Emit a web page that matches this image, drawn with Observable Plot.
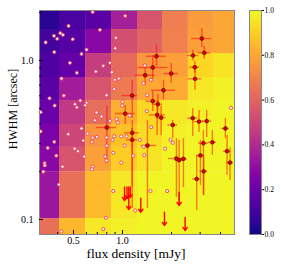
<!DOCTYPE html>
<html><head><meta charset="utf-8">
<script src="https://cdn.jsdelivr.net/npm/d3@7"></script>
<script src="https://cdn.jsdelivr.net/npm/@observablehq/plot@0.6"></script>
<style>
html,body{margin:0;padding:0;background:#fff;}
#wrap{position:relative;width:281px;height:265px;font-family:"Liberation Serif","Times New Roman",serif;color:#000;}
#wrap svg{position:absolute;top:0;overflow:visible;}
.xt{position:absolute;left:36px;top:247px;width:200px;text-align:center;font-size:13.5px;line-height:13.5px;white-space:nowrap;}
.yt{position:absolute;left:12.5px;top:109px;width:120px;height:12px;text-align:center;font-size:12px;line-height:12px;white-space:nowrap;transform:translate(-50%,-50%) rotate(-90deg);}
</style></head><body><div id="wrap"></div>
<script>
// completeness grid (bin edges and values, rows from smallest HWHM to largest)
const fluxEdges = [0.284, 0.41, 0.593, 0.856, 1.236, 1.76, 2.54, 3.62, 5.23];
const hwhmEdges = [0.07, 0.1014, 0.1416, 0.2, 0.284, 0.396, 0.56, 0.782, 1.107, 1.567, 2.2];
const completeness = [
  [0.64, 0.84, 0.96, 0.98, 0.99, 0.99, 0.99, 0.99],
  [0.33, 0.64, 0.85, 0.96, 0.99, 0.99, 0.99, 0.99],
  [0.33, 0.64, 0.85, 0.96, 0.99, 0.99, 0.99, 0.99],
  [0.28, 0.55, 0.78, 0.90, 0.95, 0.99, 0.99, 0.99],
  [0.24, 0.50, 0.75, 0.87, 0.93, 0.98, 0.99, 0.99],
  [0.20, 0.45, 0.63, 0.82, 0.92, 0.96, 0.98, 0.99],
  [0.16, 0.35, 0.55, 0.67, 0.80, 0.81, 0.96, 0.98],
  [0.13, 0.18, 0.47, 0.62, 0.76, 0.78, 0.92, 0.95],
  [0.10, 0.15, 0.28, 0.53, 0.60, 0.69, 0.78, 0.80],
  [0.05, 0.12, 0.16, 0.36, 0.55, 0.68, 0.77, 0.80]
];

// injected / recovered sources (open symbols)
const simFlux = [0.655,1.039,0.466,0.726,0.379,0.415,0.430,0.397,0.494,0.337,
  0.910,0.601,0.902,0.381,0.560,0.475,0.836,0.762,0.524,0.686,
  0.860,0.422,0.897,0.949,0.889,0.798,0.356,0.436,0.550,0.601,
  0.590,0.510,0.524,0.383,0.314,0.693,0.743,0.676,1.000,0.996,
  0.836,0.919,1.104,1.370,1.492,1.345,1.418,1.409,4.643,0.560,
  0.464,0.610,0.696,0.655,0.648,0.574,0.798,0.889,0.868,0.982,
  1.058,1.029,0.801,0.936,0.314,0.381,0.347,0.508,0.532,0.877,
  0.392,0.582,0.783,0.798,1.163,0.332,0.333,0.982,0.428,0.655,
  0.648,0.326,0.407,0.877,1.197,0.790,0.421,0.762,1.500,1.277,
  1.351,1.970,2.035,1.828,1.359,1.485,1.880];
const simHwhm = [2.02,1.91,1.65,1.56,1.43,1.485,1.45,1.37,1.36,1.30,
  1.39,1.17,1.195,1.13,1.10,0.967,0.967,0.926,0.837,0.853,
  0.844,0.770,0.756,0.770,0.660,0.605,0.579,0.602,0.560,0.542,
  0.523,0.531,0.508,0.521,0.473,0.471,0.445,0.421,0.550,0.521,
  0.418,0.428,0.451,0.930,0.756,0.720,0.605,0.480,0.504,0.374,
  0.344,0.347,0.331,0.327,0.308,0.314,0.328,0.334,0.317,0.333,
  0.334,0.292,0.291,0.407,0.358,0.308,0.282,0.279,0.269,0.263,
  0.252,0.249,0.249,0.235,0.252,0.226,0.219,0.228,0.215,0.215,
  0.207,0.200,0.166,0.151,0.114,0.1025,0.084,0.087,0.381,0.317,
  0.287,0.317,0.304,0.279,0.254,0.151,0.151];

// measured sources with error bars
const srcFlux   = [3.07,3.18,2.71,1.617,2.78,1.534,1.99,1.377,2.79,1.785,1.534,1.647,1.633,1.727,2.70,2.95,3.29,1.147,1.039,0.801,1.147,1.147,2.035,4.285,1.423,2.144,2.228,2.367,3.14,3.565,3.01,4.387,4.577,3.154,2.856];
const srcHwhm   = [1.375,1.118,1.075,1.064,0.908,0.904,0.828,0.808,0.767,0.650,0.555,0.531,0.455,0.437,0.434,0.413,0.416,0.602,0.464,0.379,0.351,0.317,0.393,0.374,0.292,0.242,0.236,0.241,0.302,0.306,0.253,0.269,0.228,0.201,0.180];
const srcFluxLo = [2.66,2.93,2.51,1.404,2.587,1.241,1.79,1.197,2.53,1.506,1.39,1.534,1.458,1.61,2.516,2.746,3.066,0.986,0.906,0.693,1.029,1.058,1.896,4.05,1.308,1.915,2.10,2.238,2.93,3.37,2.844,4.166,4.35,2.98,2.699];
const srcFluxHi = [3.53,3.47,2.935,1.862,2.98,1.896,2.21,1.587,3.08,2.115,1.693,1.767,1.828,1.854,2.897,3.162,3.53,1.236,1.202,0.919,1.271,1.236,2.184,4.53,1.617,2.40,2.357,2.51,3.37,3.774,3.184,4.63,4.80,3.337,3.02];
const srcHwhmLo = [1.207,1.017,0.993,0.917,0.832,0.759,0.717,0.70,0.65,0.563,0.478,0.459,0.338,0.338,0.333,0.352,0.328,0.432,0.396,0.225,0.16,0.117,0.323,0.323,0.117,0.1375,0.1225,0.159,0.1416,0.253,0.1637,0.189,0.176,0.1416,0.114];
const srcHwhmHi = [1.589,1.228,1.164,1.248,0.99,1.075,0.957,0.934,0.891,0.752,0.638,0.614,0.529,0.514,0.499,0.485,0.485,0.748,0.521,0.521,0.42,0.374,0.42,0.432,0.42,0.323,0.314,0.323,0.363,0.363,0.314,0.3375,0.282,0.253,0.253];

// upper limits (arrows)
const limFlux   = [1.029, 1.066, 1.093, 1.115, 1.295, 2.228, 1.81, 2.425];
const limTop    = [0.160, 0.160, 0.160, 0.160, 0.136, 0.148, 0.111, 0.103];
const limBottom = [0.1317, 0.1355, 0.1156, 0.1375, 0.111, 0.1225, 0.0917, 0.0853];

// tick values and titles
const xMajor = [0.5, 1.0];
const xMinor = [0.4, 0.6, 0.7, 0.8, 0.9, 2, 3, 4];
const yMajor = [0.1, 1.0];
const yMinor = [0.2, 0.3, 0.4, 0.5, 0.6, 0.7, 0.8, 0.9, 2];
const cbTicks = [0, 0.2, 0.4, 0.6, 0.8, 1.0];
const xTitle = "flux density [mJy]";
const yTitle = "HWHM [arcsec]";

const cells = [];
completeness.forEach((row, i) => row.forEach((v, j) => cells.push({
  x1: fluxEdges[j], x2: fluxEdges[j + 1], y1: hwhmEdges[i], y2: hwhmEdges[i + 1], v
})));
const sim = simFlux.map((f, i) => ({f, h: simHwhm[i]}));
const src = srcFlux.map((f, i) => ({f, h: srcHwhm[i], flo: srcFluxLo[i], fhi: srcFluxHi[i], hlo: srcHwhmLo[i], hhi: srcHwhmHi[i]}));
const lims = limFlux.map((f, i) => ({f, top: limTop[i], bottom: limBottom[i]}));

const fmt = d => d.toFixed(1);
const font = "'Liberation Serif', 'Times New Roman', serif";

const main = Plot.plot({
  width: 281, height: 265,
  marginLeft: 39, marginRight: 47, marginTop: 10, marginBottom: 31,
  style: {fontFamily: font, fontSize: "10px", color: "#000", background: "transparent", overflow: "visible"},
  x: {type: "log", domain: [0.309, 4.875]},
  y: {type: "log", domain: [0.0805, 2.063]},
  color: {type: "linear", scheme: "plasma", domain: [0, 1]},
  marks: [
    Plot.rect(cells, {x1: "x1", x2: "x2", y1: "y1", y2: "y2", fill: "v", clip: true}),
    Plot.ruleX(src, {x: "f", y1: "hlo", y2: "hhi", stroke: "red", strokeOpacity: 0.5, strokeWidth: 1.4, clip: true}),
    Plot.ruleY(src, {y: "h", x1: "flo", x2: "fhi", stroke: "red", strokeOpacity: 0.5, strokeWidth: 1.4, clip: true}),
    Plot.arrow(lims, {x1: "f", x2: "f", y1: "top", y2: "bottom", stroke: "red", strokeWidth: 1.4, headLength: 4, headAngle: 70, clip: true}),
    Plot.dot(sim, {x: "f", y: "h", r: 1.6, fill: "white", stroke: "#e8405a", strokeWidth: 0.9}),
    Plot.dot(src, {x: "f", y: "h", r: 1.9, fill: "#e00000", stroke: "#4a0000", strokeWidth: 0.6}),
    Plot.frame({stroke: "#888"}),
    Plot.axisX(xMajor, {tickSize: -4, fill: "none", label: null}),
    Plot.axisX(xMinor, {tickSize: -2, fill: "none", label: null}),
    Plot.text(xMajor, {x: d => d, text: fmt, frameAnchor: "bottom", lineAnchor: "top", dy: 2, fontSize: 10, fill: "#000"}),
    Plot.axisY(yMajor, {tickSize: -4, fill: "none", label: null}),
    Plot.axisY(yMinor, {tickSize: -2, fill: "none", label: null}),
    Plot.text(yMajor, {y: d => d, text: fmt, frameAnchor: "left", textAnchor: "end", dx: -6, fontSize: 10, fill: "#000"})
  ]
});
main.style.left = "0px";

const rampMark = Plot.raster
  ? Plot.raster({fill: (x, y) => y, x1: 0, x2: 1, y1: 0, y2: 1, width: 1, height: 224, imageRendering: "auto"})
  : Plot.rect(cbTicks.slice(0, -1), {x1: 0, x2: 1, y1: d => d, y2: d => d + 0.2, fill: d => d + 0.1});

const cbar = Plot.plot({
  width: 40, height: 265,
  marginLeft: 0, marginRight: 28, marginTop: 10, marginBottom: 31,
  style: {fontFamily: font, fontSize: "7.5px", color: "#000", background: "transparent", overflow: "visible"},
  x: {domain: [0, 1], axis: null},
  y: {domain: [0, 1]},
  color: {type: "linear", scheme: "plasma", domain: [0, 1]},
  marks: [
    rampMark,
    Plot.frame({stroke: "#888"}),
    Plot.axisY(cbTicks, {anchor: "right", tickSize: 2, tickPadding: 1, tickFormat: fmt, label: null})
  ]
});
cbar.style.left = "249px";

const wrap = document.getElementById("wrap");
wrap.appendChild(main);
wrap.appendChild(cbar);
const xt = document.createElement("div"); xt.className = "xt"; xt.textContent = xTitle; wrap.appendChild(xt);
const yt = document.createElement("div"); yt.className = "yt"; yt.textContent = yTitle; wrap.appendChild(yt);
</script>
</body></html>
